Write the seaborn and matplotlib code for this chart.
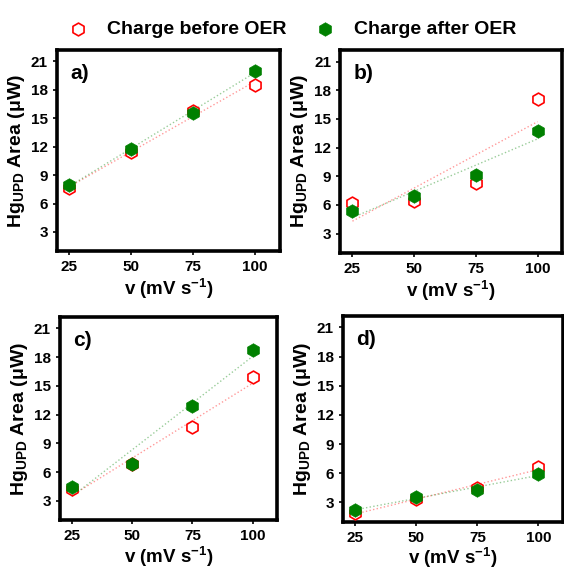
import pandas as pd
import seaborn as sns
from matplotlib import pyplot as plt

rates = [25, 50, 75, 100]
panels = ['a)', 'b)', 'c)', 'd)']
before_oer = {
    'a)': [7.6, 11.45, 15.8, 18.5],
    'b)': [6.15, 6.45, 8.3, 17.1],
    'c)': [4.2, 6.85, 10.7, 15.95],
    'd)': [1.9, 3.35, 4.5, 6.6],
}
after_oer = {
    'a)': [7.95, 11.75, 15.6, 20.0],
    'b)': [5.35, 6.9, 9.15, 13.75],
    'c)': [4.5, 6.9, 12.95, 18.75],
    'd)': [2.25, 3.55, 4.25, 5.95],
}
series_names = ['Charge before OER', 'Charge after OER']

rows = []
for p in panels:
    for name, src in zip(series_names, [before_oer, after_oer]):
        for v, q in zip(rates, src[p]):
            rows.append({'panel': p, 'series': name, 'rate': v, 'area': q})
df = pd.DataFrame(rows)

sns.set_style('ticks')
plt.rcParams['font.family'] = ['Liberation Sans', 'DejaVu Sans']
plt.rcParams['font.weight'] = 'bold'
plt.rcParams['axes.labelweight'] = 'bold'
plt.rcParams['mathtext.fontset'] = 'custom'
plt.rcParams['mathtext.rm'] = 'Liberation Sans:bold'
plt.rcParams['mathtext.bf'] = 'Liberation Sans:bold'
plt.rcParams['mathtext.it'] = 'Liberation Sans:bold'
plt.rcParams['mathtext.default'] = 'bf'
for key in ['text.color', 'axes.labelcolor', 'xtick.color', 'ytick.color', 'axes.edgecolor']:
    plt.rcParams[key] = 'black'

fig = plt.figure(figsize=(5.64, 5.69), dpi=100)
boxes = {
    'a)': [0.101, 0.559, 0.395, 0.353],
    'b)': [0.603, 0.556, 0.394, 0.356],
    'c)': [0.106, 0.086, 0.385, 0.357],
    'd)': [0.608, 0.083, 0.39, 0.362],
}

red = '#ff0000'
green = '#008000'

for p in panels:
    ax = fig.add_axes(boxes[p])
    d = df[df.panel == p]
    dr = d[d.series == series_names[0]]
    dg = d[d.series == series_names[1]]
    sns.regplot(data=dr, x='rate', y='area', scatter=False, ci=None, ax=ax,
                truncate=True, color=red,
                line_kws={'ls': ':', 'lw': 1.0, 'alpha': 0.4})
    sns.regplot(data=dg, x='rate', y='area', scatter=False, ci=None, ax=ax,
                truncate=True, color=green,
                line_kws={'ls': ':', 'lw': 1.0, 'alpha': 0.4})
    sns.scatterplot(data=dr, x='rate', y='area', marker='h', s=85,
                    facecolor='white', edgecolor=red, linewidth=1.2, ax=ax,
                    label=series_names[0] if p == 'a)' else None, zorder=3)
    sns.scatterplot(data=dg, x='rate', y='area', marker='h', s=95,
                    color=green, edgecolor=green, linewidth=0.5, ax=ax,
                    label=series_names[1] if p == 'a)' else None, zorder=4)
    ax.set_xlim(20, 110)
    ax.set_ylim(1, 22.2)
    ax.set_xticks(rates)
    ax.set_yticks(range(3, 22, 3))
    ax.tick_params(labelsize=11, width=1.2, length=3)
    for lab in ax.get_xticklabels() + ax.get_yticklabels():
        lab.set_fontweight('bold')
    for s in ax.spines.values():
        s.set_linewidth(2.6)
    ax.set_xlabel('v (mV s$^{-1}$)', fontsize=13.5, fontweight='bold',
                  labelpad=1 if p in ('c)', 'd)') else 2)
    ax.set_ylabel('Hg$_{UPD}$ Area ($\\mu$W)', fontsize=14, fontweight='bold', labelpad=3)
    ax.text(0.06, 0.93, p, transform=ax.transAxes, fontsize=15,
            fontweight='bold', va='top', ha='left')
    if p == 'a)':
        handles, labels = ax.get_legend_handles_labels()
        ax.get_legend().remove()

fig.legend(handles, labels, loc='upper left', bbox_to_anchor=(0.072, 0.995),
           ncol=2, frameon=False, columnspacing=1.0, handlelength=2.0,
           handletextpad=0.5, prop={'weight': 'bold', 'size': 14})

plt.savefig('out.png', dpi=100)
